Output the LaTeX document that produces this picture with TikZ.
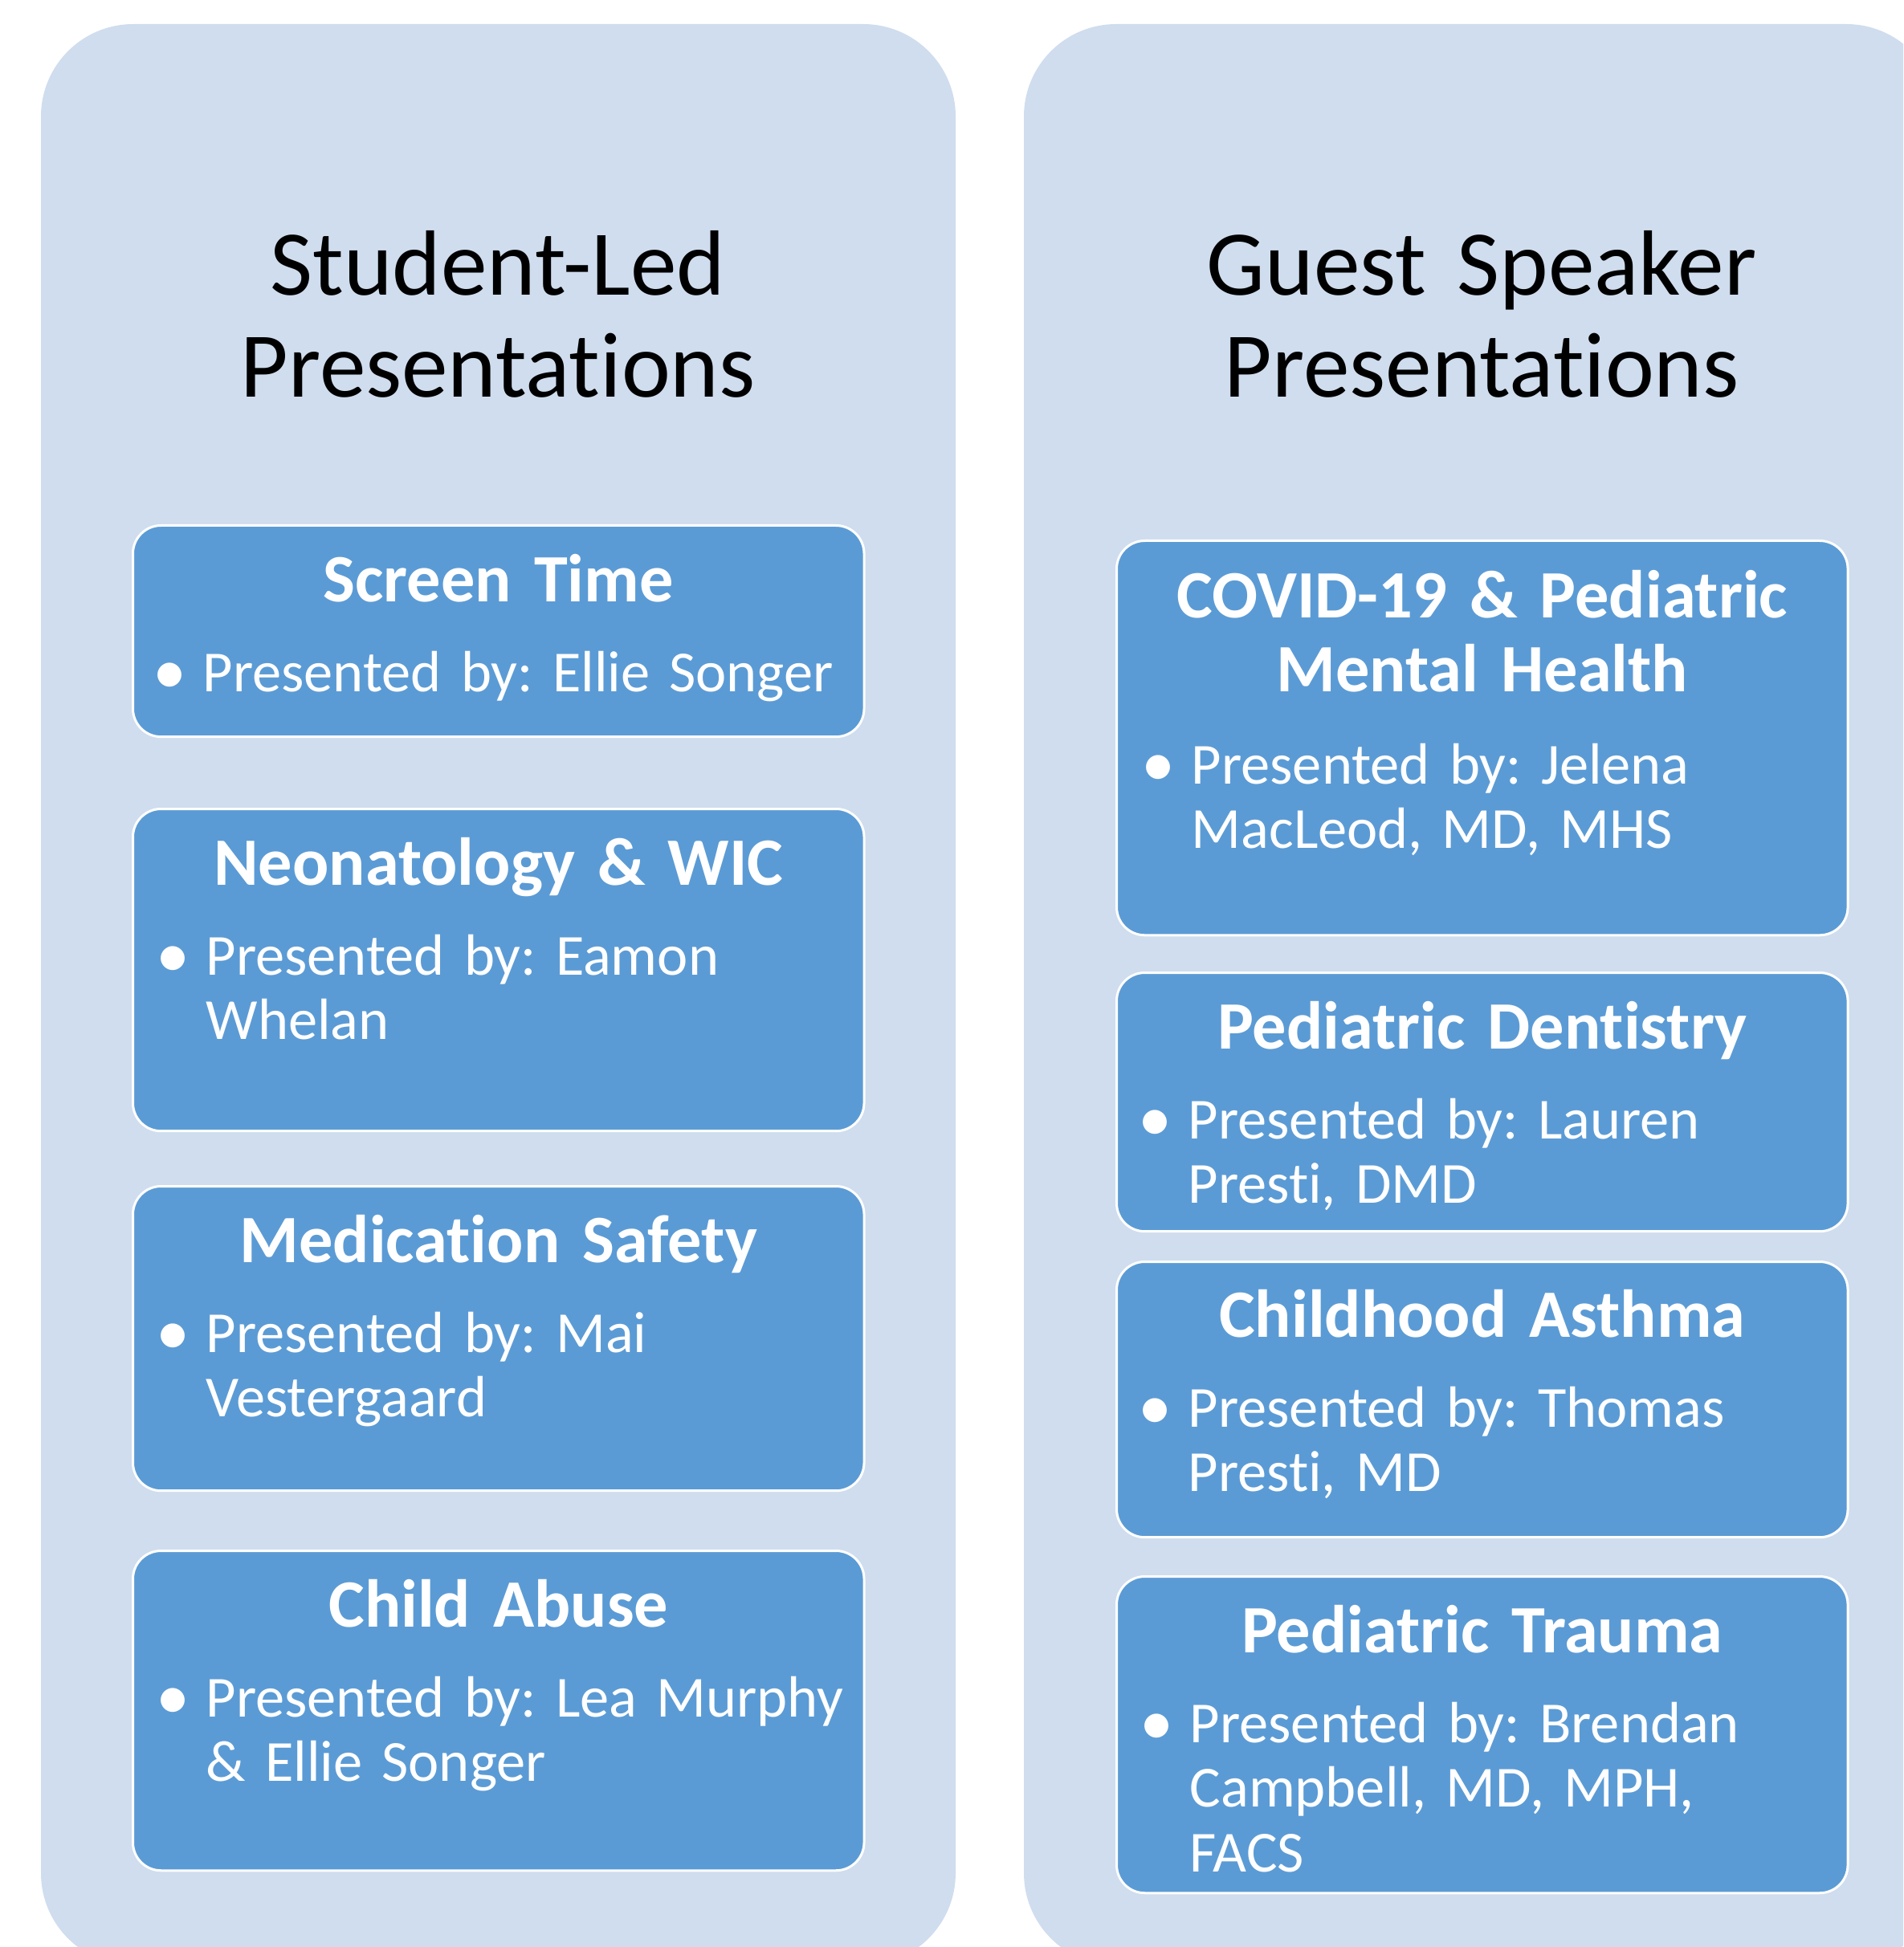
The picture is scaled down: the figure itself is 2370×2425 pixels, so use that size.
\documentclass[tikz,border=0pt]{standalone}
\usepackage{fontspec}
\setmainfont{Carlito}[Ligatures=NoCommon]
\frenchspacing
\definecolor{panelblue}{HTML}{CFDDEE}
\definecolor{boxblue}{HTML}{5B9BD5}
\begin{document}
\begin{tikzpicture}[x=0.01cm, y=-0.01cm,
	panel/.style={fill=panelblue, rounded corners=1.15cm},
	paneltitle/.style={anchor=base, align=center, text width=11cm, inner sep=0pt,
		font=\frenchspacing\fontsize{32.8pt}{36pt}\selectfont},
	topicbox/.style={draw=white, line width=0.03cm, fill=boxblue, rounded corners=0.35cm,
		anchor=north west, inner sep=0pt, minimum width=9.1cm},
	topichead/.style={anchor=base, align=center, text width=9.1cm, inner sep=0pt, text=white,
		font=\frenchspacing\bfseries\fontsize{24pt}{26pt}\selectfont},
	topicbody/.style={anchor=base west, align=left, text width=8.5cm, inner sep=0pt, text=white,
		font=\frenchspacing\fontsize{20.6pt}{23pt}\selectfont},
	bulletdot/.style={anchor=base west, inner sep=0pt, text=white, yshift=-0.03cm,
		font=\fontsize{24pt}{26pt}\selectfont}]
		\useasboundingbox (0,0) rectangle (2370,2425);
		\clip (0,0) rectangle (2370,2425);
		%draw panels
		\fill [panel] (51,30) rectangle (1190,2448);
		\fill [panel] (1275,30) rectangle (2414,2448);
		\node [paneltitle] (studtitle) at (620,368) {Student-Led\\Presentations};
		\node [paneltitle] (guesttitle) at (1845,368) {Guest Speaker\\Presentations};
		%student-led boxes
		\node [topicbox, minimum height=2.63cm] (ltime) at (164,653) {};
		\node [topichead] (ltimehead) at ([shift={(0,96)}]ltime.north) {Screen Time};
		\node [bulletdot] (ltimedot) at ([shift={(26,208)}]ltime.north west) {\textbullet};
		\node [topicbody] (ltimetext) at ([shift={(88,208)}]ltime.north west) {Presented by: Ellie Songer};
		
		\node [topicbox, minimum height=4.01cm] (lneo) at (164,1006) {};
		\node [topichead] (lneohead) at ([shift={(0,96)}]lneo.north) {Neonatology \& WIC};
		\node [bulletdot] (lneodot) at ([shift={(30,208)}]lneo.north west) {\textbullet};
		\node [topicbody] (lneotext) at ([shift={(92,208)}]lneo.north west) {Presented by: Eamon\\Whelan};
		
		\node [topicbox, minimum height=3.79cm] (lmed) at (164,1476) {};
		\node [topichead] (lmedhead) at ([shift={(0,96)}]lmed.north) {Medication Safety};
		\node [bulletdot] (lmeddot) at ([shift={(30,208)}]lmed.north west) {\textbullet};
		\node [topicbody] (lmedtext) at ([shift={(92,208)}]lmed.north west) {Presented by: Mai\\Vestergaard};
		
		\node [topicbox, minimum height=3.98cm] (labuse) at (164,1930) {};
		\node [topichead] (labusehead) at ([shift={(0,96)}]labuse.north) {Child Abuse};
		\node [bulletdot] (labusedot) at ([shift={(30,208)}]labuse.north west) {\textbullet};
		\node [topicbody] (labusetext) at ([shift={(92,208)}]labuse.north west) {Presented by: Lea Murphy\\\& Ellie Songer};
		%guest speaker boxes
		\node [topicbox, minimum height=4.91cm] (rcovid) at (1389,672) {};
		\node [topichead] (rcovidhead) at ([shift={(0,98)}]rcovid.north) {COVID-19 \& Pediatric\\Mental Health};
		\node [bulletdot] (rcoviddot) at ([shift={(32,304)}]rcovid.north west) {\textbullet};
		\node [topicbody] (rcovidtext) at ([shift={(94,304)}]rcovid.north west) {Presented by: Jelena\\MacLeod, MD, MHS};
		
		\node [topicbox, minimum height=3.22cm] (rdent) at (1389,1210) {};
		\node [topichead] (rdenthead) at ([shift={(0,96)}]rdent.north) {Pediatric Dentistry};
		\node [bulletdot] (rdentdot) at ([shift={(28,208)}]rdent.north west) {\textbullet};
		\node [topicbody] (rdenttext) at ([shift={(90,208)}]rdent.north west) {Presented by: Lauren\\Presti, DMD};
		
		\node [topicbox, minimum height=3.43cm] (rasthma) at (1389,1570) {};
		\node [topichead] (rasthmahead) at ([shift={(0,95)}]rasthma.north) {Childhood Asthma};
		\node [bulletdot] (rasthmadot) at ([shift={(28,207)}]rasthma.north west) {\textbullet};
		\node [topicbody] (rasthmatext) at ([shift={(90,207)}]rasthma.north west) {Presented by: Thomas\\Presti, MD};
		
		\node [topicbox, minimum height=3.94cm] (rtrauma) at (1389,1962) {};
		\node [topichead] (rtraumahead) at ([shift={(0,96)}]rtrauma.north) {Pediatric Trauma};
		\node [bulletdot] (rtraumadot) at ([shift={(30,208)}]rtrauma.north west) {\textbullet};
		\node [topicbody] (rtraumatext) at ([shift={(92,208)}]rtrauma.north west) {Presented by: Brendan\\Campbell, MD, MPH,\\FACS};
	\end{tikzpicture}
\end{document}
